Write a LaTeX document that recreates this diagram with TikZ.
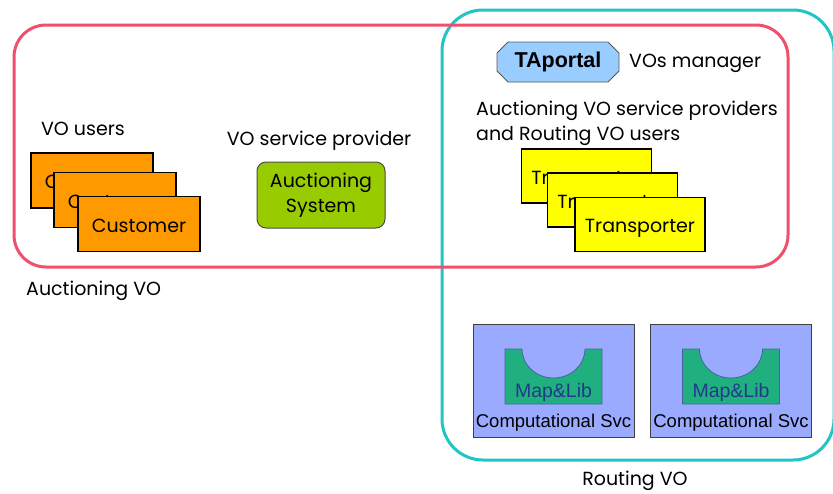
\documentclass[tikz,border=0pt]{standalone}
\usepackage{fontspec}
\setmainfont{Poppins}
\newfontfamily\arialf{Liberation Sans}
\usetikzlibrary{calc}
\definecolor{pinkc}{HTML}{F0506E}
\definecolor{cyanc}{HTML}{22C4C4}
\definecolor{orangec}{HTML}{FF9900}
\definecolor{greenc}{HTML}{99CC00}
\definecolor{yellowc}{HTML}{FFFF00}
\definecolor{portalc}{HTML}{99CCFF}
\definecolor{svcc}{HTML}{99AAFF}
\definecolor{mapc}{HTML}{20B080}
\definecolor{mapt}{HTML}{203A8A}
\tikzset{
  lbl/.style={font=\fontsize{19}{22}\selectfont, inner sep=0pt},
  custbox/.style={draw=black, line width=1.6pt, fill=orangec, minimum width=122pt, minimum height=55pt, inner sep=0pt, text height=16pt, text depth=0pt, font=\fontsize{19}{22}\selectfont},
  transbox/.style={draw=black, line width=1.6pt, fill=yellowc, minimum width=130pt, minimum height=54pt, inner sep=0pt, text height=16pt, text depth=0pt, font=\fontsize{19}{22}\selectfont},
  sysbox/.style={draw=black!70, line width=1pt, fill=greenc, rounded corners=9pt, minimum width=128pt, minimum height=66pt, inner sep=0pt, align=center, font=\fontsize{19}{25}\selectfont},
  portalbox/.style={minimum width=122pt, minimum height=40pt, inner sep=0pt, font=\arialf\bfseries\fontsize{21.5}{24}\selectfont},
  portalline/.style={draw=black!65, line width=0.8pt, fill=portalc},
  svcbox/.style={draw=black!75, line width=1pt, fill=svcc, minimum width=161pt, minimum height=113pt, inner sep=0pt},
  maplbl/.style={font=\arialf\fontsize{19.5}{22}\selectfont, text=mapt, inner sep=0pt},
  svclbl/.style={font=\arialf\fontsize{18.5}{21}\selectfont, inner sep=0pt},
}
\begin{document}
\begin{tikzpicture}[x=1pt, y=-1pt]
\useasboundingbox (0,0) rectangle (833,493);
\fill[white] (0,0) rectangle (833,493);
% VO boundaries
\draw[cyanc, line width=3pt, rounded corners=41pt] (442,10) rectangle (834,460);
\draw[pinkc, line width=3pt, rounded corners=32pt] (14,25) rectangle (788,267);
% Auctioning VO content
\node[lbl, anchor=base] (vousers) at (83,135) {VO users};
\node[custbox] (c1) at (92,180.5) {Customer};
\node[custbox] (c2) at (115,200) {Customer};
\node[custbox] (c3) at (139,224) {Customer};
\node[lbl, anchor=base] (vosp) at (319,145) {VO service provider};
\node[sysbox] (sys) at (321,195) {Auctioning\\System};
\node[lbl, anchor=base west] (avo) at (26,295) {Auctioning VO};
% shared region
\coordinate (pc) at (558,62);
\filldraw[portalline]
  ($(pc)+(-50,-20)$) -- ($(pc)+(50,-20)$) -- ($(pc)+(61,-9)$) -- ($(pc)+(61,9)$)
  -- ($(pc)+(50,20)$) -- ($(pc)+(-50,20)$) -- ($(pc)+(-61,9)$) -- ($(pc)+(-61,-9)$) -- cycle;
\node[portalbox] (portal) at (pc) {TAportal};
\node[lbl, anchor=base west] (mgr) at (629,67) {VOs manager};
\node[lbl, anchor=base west] (asp1) at (476,115) {Auctioning VO service providers};
\node[lbl, anchor=base west] (asp2) at (476,140) {and Routing VO users};
\node[transbox] (t1) at (586.5,176) {Transporter};
\node[transbox] (t2) at (612.5,200) {Transporter};
\node[transbox] (t3) at (640,224.5) {Transporter};
% Routing VO content
\foreach \i/\cx in {1/553.5, 2/731} {
  \node[svcbox] (svc\i) at (\cx,380.5) {};
  \filldraw[fill=mapc, draw=mapt!80, line width=0.8pt]
    ($(\cx,349)+(-48.5,0)$) -- ($(\cx,349)+(-31.5,0)$)
    arc[start angle=180, end angle=0, x radius=31.5, y radius=29]
    -- ($(\cx,349)+(48.5,0)$) -- ($(\cx,349)+(48.5,55)$) -- ($(\cx,349)+(-48.5,55)$) -- cycle;
  \node[maplbl, anchor=base] (map\i) at (\cx+0,397) {Map\&Lib};
  \node[svclbl, anchor=base] (svct\i) at (\cx+0,427) {Computational Svc};
}
\node[lbl, anchor=base] (rvo) at (635,485) {Routing VO};
\end{tikzpicture}
\end{document}
